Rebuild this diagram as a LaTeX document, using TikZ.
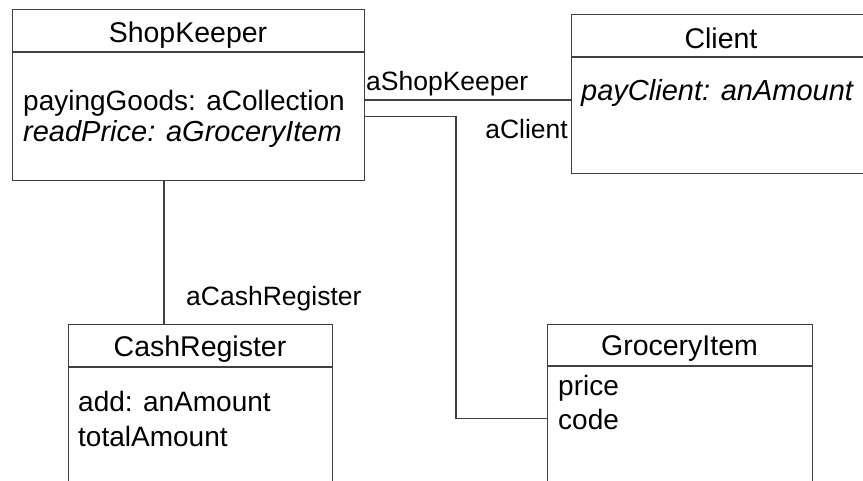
\documentclass[tikz,border=0pt]{standalone}
\usepackage{fontspec}
\setmainfont{Liberation Sans}
\begin{document}
\begin{tikzpicture}[x=1pt,y=-1pt,
  umlbox/.style={draw=black!75,line width=1.2pt,anchor=north west,inner sep=0pt},
  divider/.style={draw=black!75,line width=1.2pt},
  assoc/.style={draw=black!75,line width=1.2pt},
  ttl/.style={anchor=base,inner sep=0pt,font=\fontsize{28.5}{32}\selectfont},
  attr/.style={anchor=base west,inner sep=0pt,font=\fontsize{28}{32}\selectfont},
  op/.style={anchor=base west,inner sep=0pt,font=\fontsize{29}{32}\selectfont\itshape},
  role/.style={inner sep=0pt,font=\fontsize{26.5}{30}\selectfont}]
\clip (0,0) rectangle (863,480);
\fill[white] (0,0) rectangle (863,480);

% class boxes
\node[umlbox,minimum width=352pt,minimum height=171pt] (sk) at (12,9) {};
\node[umlbox,minimum width=296pt,minimum height=159pt] (cl) at (571,14) {};
\node[umlbox,minimum width=264.5pt,minimum height=190pt] (cr) at (67.5,324) {};
\node[umlbox,minimum width=265pt,minimum height=190pt] (gi) at (547,324) {};

% compartment dividers
\draw[divider] ([yshift=-43pt]sk.north west) -- ([yshift=-43pt]sk.north east);
\draw[divider] ([yshift=-43pt]cl.north west) -- ([yshift=-43pt]cl.north east);
\draw[divider] ([yshift=-43pt]cr.north west) -- ([yshift=-43pt]cr.north east);
\draw[divider] ([yshift=-42pt]gi.north west) -- ([yshift=-42pt]gi.north east);

% class names
\node[ttl] (skname) at (188,42.5) {ShopKeeper};
\node[ttl] (clname) at (721,48) {Client};
\node[ttl] (crname) at (200,356) {CashRegister};
\node[ttl] (giname) at (679.5,355) {GroceryItem};

% members
\node[attr] (sk1) at (23,110) {payingGoods: aCollection};
\node[op] (sk2) at (23,141) {readPrice: aGroceryItem};
\node[op] (cl1) at (581,100) {payClient: anAmount};
\node[attr] (cr1) at (78,411.5) {add: anAmount};
\node[attr] (cr2) at (78,446) {totalAmount};
\node[attr] (gi1) at (558,395) {price};
\node[attr] (gi2) at (558,429) {code};

% associations
\draw[assoc] (sk.east |- 0,100) -- (cl.west |- 0,100);
\draw[assoc] (sk.east |- 0,116.5) -| (456,418.5) -- (gi.west |- 0,418.5);
\draw[assoc] (sk.south -| 164,0) -- (cr.north -| 164,0);

% role names
\node[role,anchor=base west] (rsk) at (366,90) {aShopKeeper};
\node[role,anchor=base east] (rcl) at (568,138) {aClient};
\node[role,anchor=base west] (rcr) at (186,305) {aCashRegister};
\end{tikzpicture}
\end{document}
